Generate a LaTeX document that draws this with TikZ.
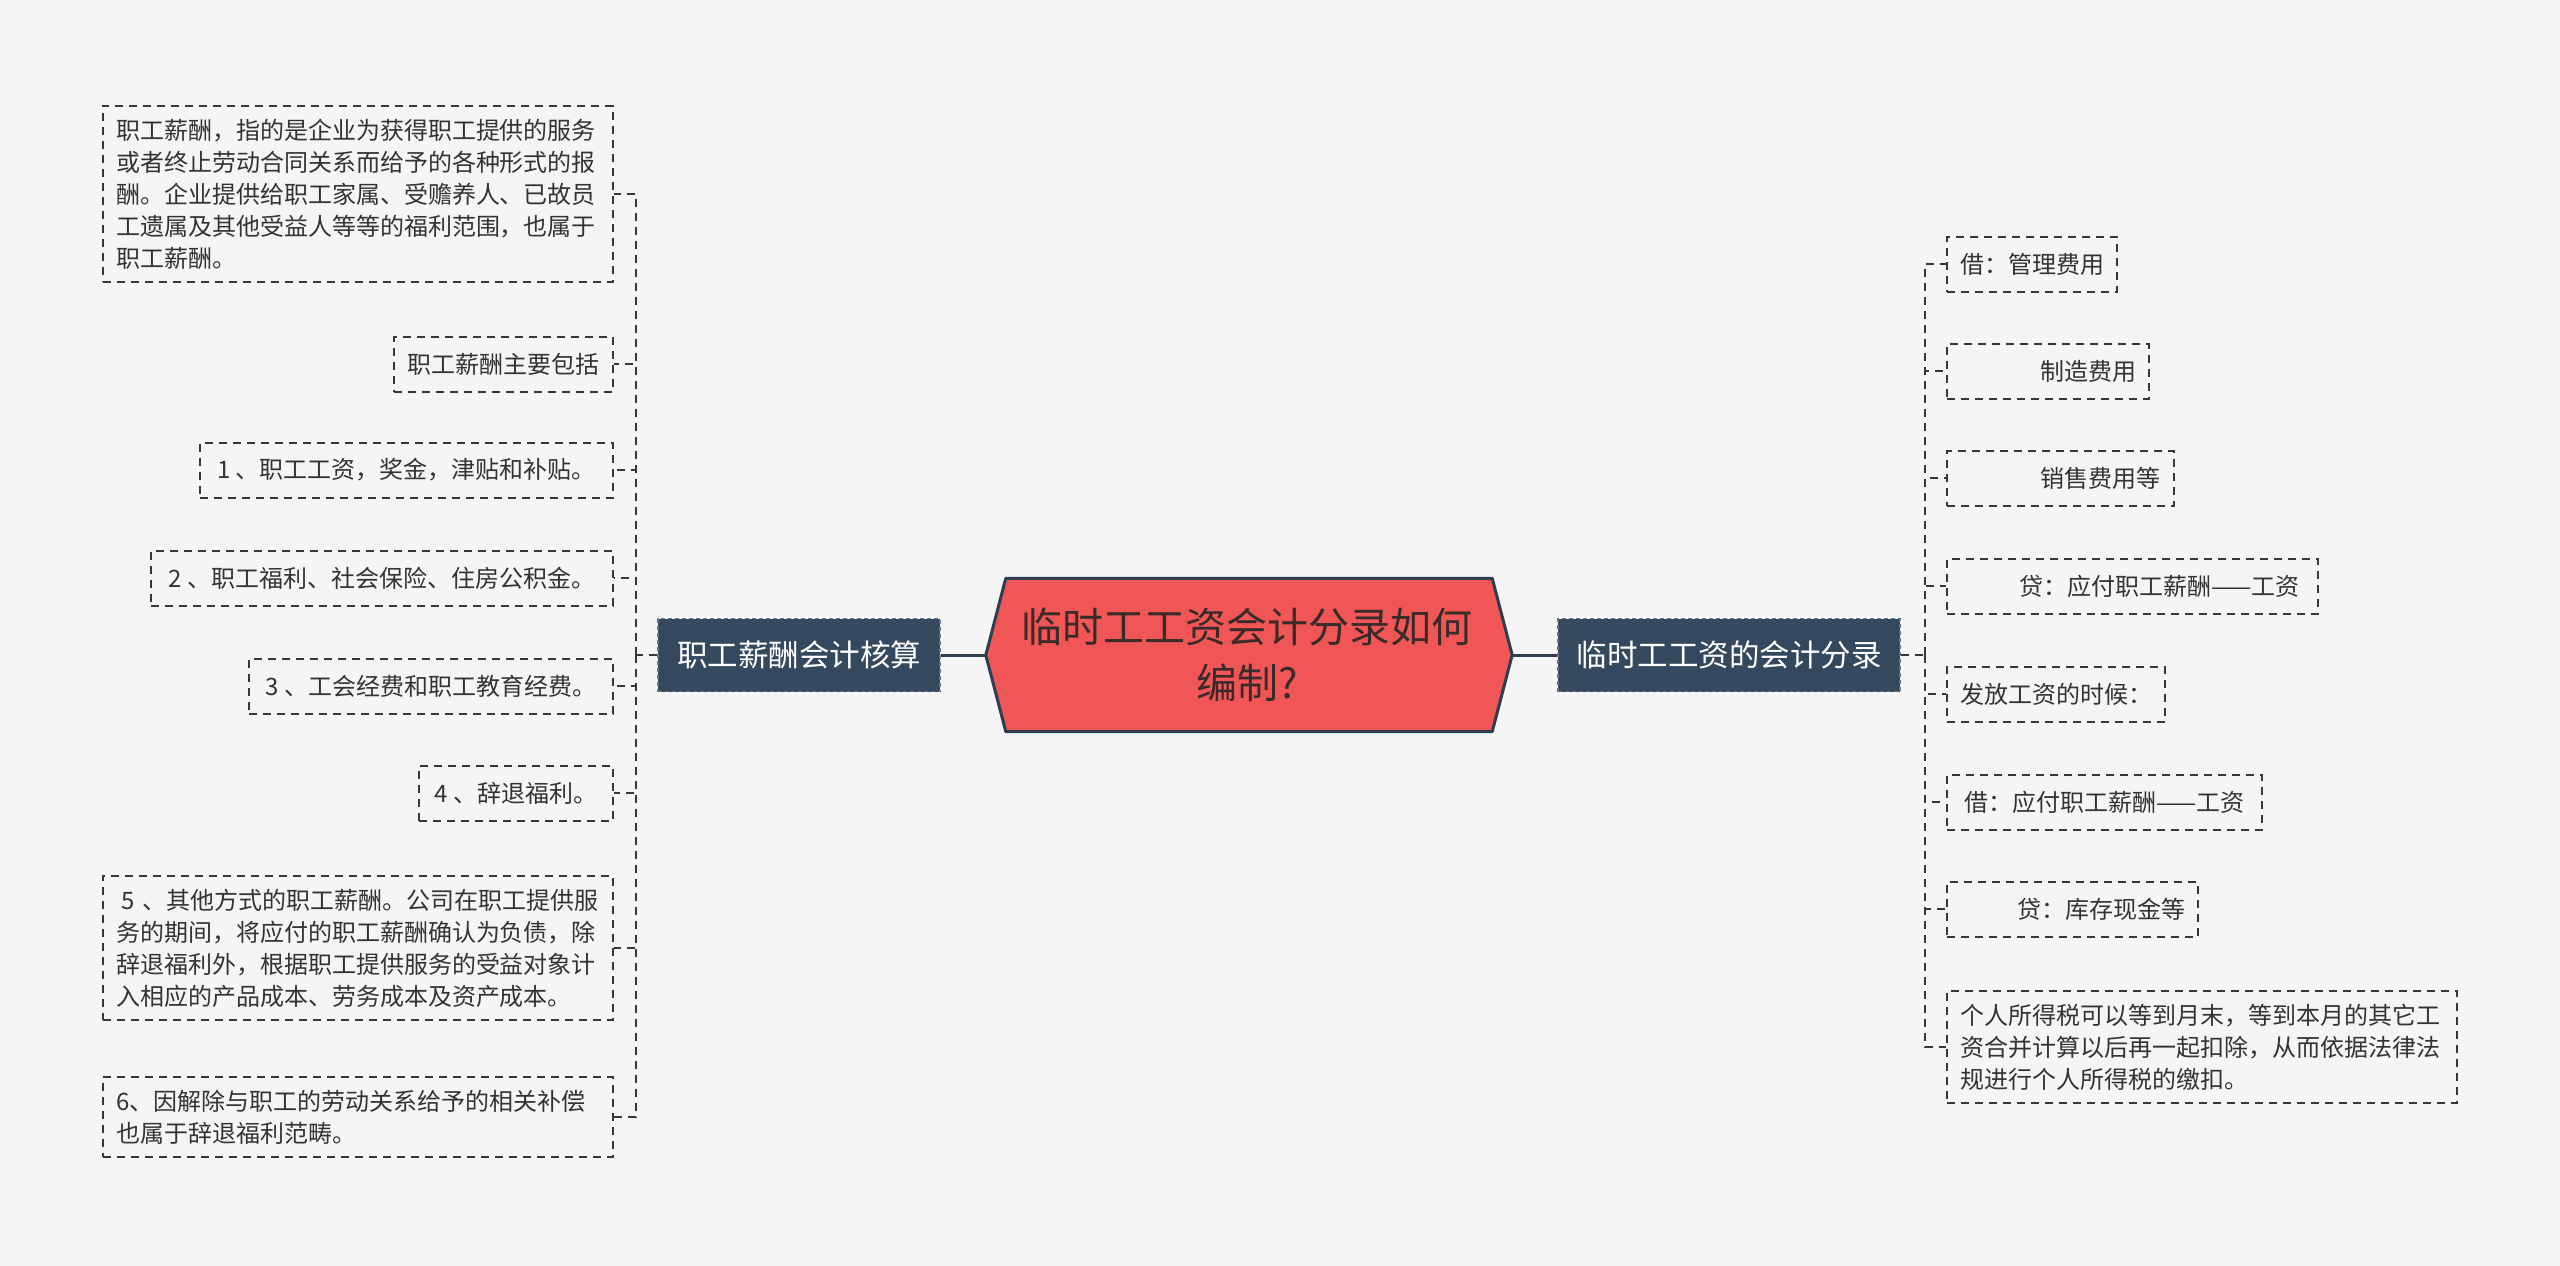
\documentclass[tikz,border=0pt]{standalone}
\usepackage{fontspec}
\setmainfont{Noto Sans CJK SC}
\usetikzlibrary{calc}
\definecolor{bg}{HTML}{F5F5F5}
\definecolor{rootfill}{HTML}{F05656}
\definecolor{dark}{HTML}{34495E}
\definecolor{rootline}{HTML}{2C3E50}
\definecolor{txt}{HTML}{333333}
\definecolor{roottxt}{HTML}{3A2A2A}
\definecolor{leafline}{HTML}{333740}
\tikzset{
  leaf/.style={draw=leafline, line width=2pt, dash pattern=on 8pt off 6pt, text=txt,
    font=\fontsize{24}{32}\selectfont, inner xsep=13pt, inner ysep=13pt, align=left},
  leafone/.style={leaf, minimum height=55pt, inner ysep=0pt},
  mainbox/.style={fill=dark, draw=dark!75!white, dash pattern=on 4pt off 3pt, line width=1.2pt,
    text=white, font=\fontsize{30.5}{36}\selectfont, minimum height=73pt, inner xsep=15pt},
  branch/.style={draw=leafline, line width=2pt, dash pattern=on 8pt off 6pt},
  rootlink/.style={draw=rootline, line width=3pt},
}
\begin{document}
\begin{tikzpicture}[x=1pt,y=-1pt]
\useasboundingbox[fill=bg] (0,0) rectangle (2560,1266);

% root
\node[minimum width=526pt, minimum height=153pt, inner sep=0pt] (root) at (1249,655) {};
\filldraw[fill=rootfill, draw=rootline, line width=3pt, line join=round]
  (root.west) -- ($(root.north west)+(20,0)$) -- ($(root.north east)+(-20,0)$) -- (root.east)
  -- ($(root.south east)+(-20,0)$) -- ($(root.south west)+(20,0)$) -- cycle;
\node[text=roottxt, font=\fontsize{41}{56}\selectfont, align=center] (roottext) at (1247,655) {临时工工资会计分录如何\\编制?};

% main nodes
\node[mainbox, minimum width=282pt] (lmain) at (799,655) {职工薪酬会计核算};
\node[mainbox, minimum width=342pt] (rmain) at (1729,655) {临时工工资的会计分录};
\draw[rootlink] (root.west) -- (lmain.east);
\draw[rootlink] (root.east) -- (rmain.west);

% left leaves
\node[leaf, text width=484pt, anchor=east] (l1) at (614,194) {职工薪酬，指的是企业为获得职工提供的服务\\或者终止劳动合同关系而给予的各种形式的报\\酬。企业提供给职工家属、受赡养人、已故员\\工遗属及其他受益人等等的福利范围，也属于\\职工薪酬。};
\node[leafone, minimum width=219pt, anchor=east] (l2) at (614,364) {职工薪酬主要包括};
\node[leafone, minimum width=413pt, anchor=east] (l3) at (614,470) {1 、职工工资，奖金，津贴和补贴。};
\node[leafone, minimum width=462pt, anchor=east] (l4) at (614,578) {2 、职工福利、社会保险、住房公积金。};
\node[leafone, minimum width=364pt, anchor=east] (l5) at (614,686) {3 、工会经费和职工教育经费。};
\node[leafone, minimum width=194pt, anchor=east] (l6) at (614,793) {4 、辞退福利。};
\node[leaf, text width=484pt, anchor=east] (l7) at (614,948) {\hspace*{5pt}5 、其他方式的职工薪酬。公司在职工提供服\\务的期间，将应付的职工薪酬确认为负债，除\\辞退福利外，根据职工提供服务的受益对象计\\入相应的产品成本、劳务成本及资产成本。};
\node[leaf, text width=484pt, anchor=east] (l8) at (614,1117) {6、因解除与职工的劳动关系给予的相关补偿\\也属于辞退福利范畴。};

\coordinate (lsp) at (636,655);
\draw[branch] (lmain.west) -- (lsp);
\foreach \n in {l1,l2,l3,l4,l5,l6,l7,l8} \draw[branch] (lsp) |- (\n.east);

% right leaves
\node[leafone, minimum width=170pt, anchor=west] (r1) at (1946,264) {借：管理费用};
\node[leafone, minimum width=201pt, anchor=west] (r2) at (1946,371) {\hspace*{80pt}制造费用};
\node[leafone, minimum width=227pt, anchor=west] (r3) at (1946,478) {\hspace*{80pt}销售费用等};
\node[leafone, minimum width=371pt, anchor=west] (r4) at (1946,586) {\hspace*{54pt}贷：应付职工薪酬——工资};
\node[leafone, minimum width=217pt, anchor=west] (r5) at (1946,694) {发放工资的时候：};
\node[leafone, minimum width=315pt, anchor=west] (r6) at (1946,802) {借：应付职工薪酬——工资};
\node[leafone, minimum width=250pt, anchor=west] (r7) at (1946,909) {\hspace*{57pt}贷：库存现金等};
\node[leaf, text width=484pt, anchor=west] (r8) at (1946,1047) {个人所得税可以等到月末，等到本月的其它工\\资合并计算以后再一起扣除，从而依据法律法\\规进行个人所得税的缴扣。};

\coordinate (rsp) at (1925,655);
\draw[branch] (rmain.east) -- (rsp);
\foreach \n in {r1,r2,r3,r4,r5,r6,r7,r8} \draw[branch] (rsp) |- (\n.west);
\end{tikzpicture}
\end{document}
